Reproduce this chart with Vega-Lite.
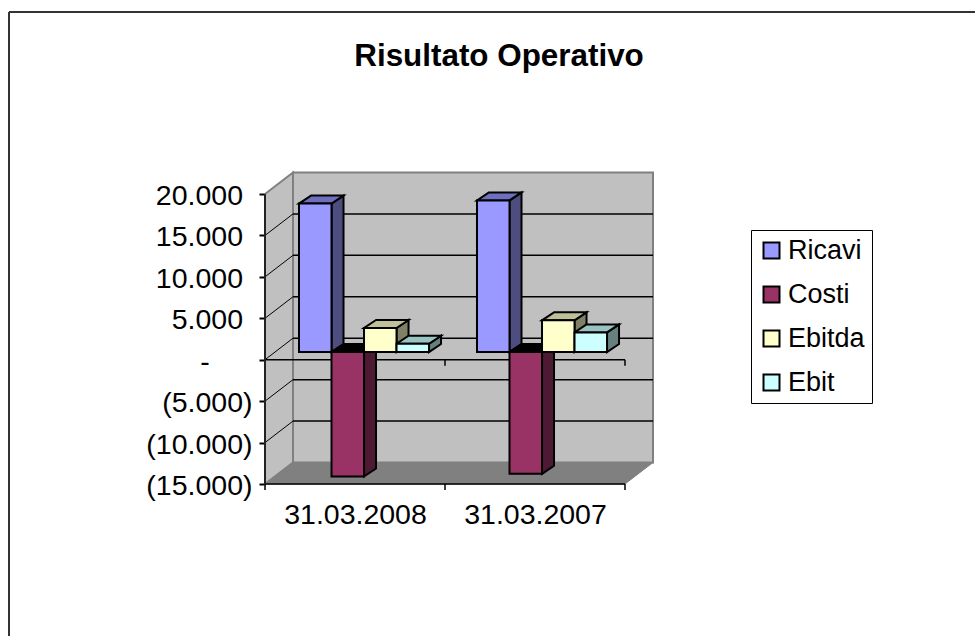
{
"$schema":"https://vega.github.io/schema/vega-lite/v6.json",
"width":388,"height":312,"autosize":"none",
"padding":{"left":265,"top":172,"right":322,"bottom":152},
"background":"white",
"config":{"view":{"stroke":null},"font":"Liberation Sans"},
"title":{"text":"Risultato Operativo","font":"Liberation Sans","fontSize":31.4,"fontWeight":"bold","color":"black","anchor":"middle","frame":"group","dx":40,"offset":-86,"baseline":"alphabetic"},
"datasets":{
"bars":[
{"category":"31.03.2008","series":"Ricavi","value":17910},
{"category":"31.03.2008","series":"Costi","value":-15020},
{"category":"31.03.2008","series":"Ebitda","value":2900},
{"category":"31.03.2008","series":"Ebit","value":1000},
{"category":"31.03.2007","series":"Ricavi","value":18300},
{"category":"31.03.2007","series":"Costi","value":-14700},
{"category":"31.03.2007","series":"Ebitda","value":3820},
{"category":"31.03.2007","series":"Ebit","value":2370}
],
"grid":[{"tick":15000},{"tick":10000},{"tick":5000},{"tick":0},{"tick":-5000},{"tick":-10000}],
"ends":[{"t":0},{"t":1}],
"cats":[{"c":0},{"c":1},{"c":2}]
},
"layer":[
{"data":{"values":[{"k":"wall"}]},"mark":{"type":"rect","fill":"#C0C0C0","stroke":"#808080","strokeWidth":2},
 "encoding":{
 "x":{"datum":0.1556,"type":"quantitative","scale":{"domain":[0,2.1556],"nice":false,"zero":false},
   "axis":{"values":[0.5,1.5],"labelExpr":"datum.value<1?'31.03.2008':'31.03.2007'","title":null,"ticks":false,"domain":false,"grid":false,"labelFont":"Liberation Sans","labelFontSize":28.5,"labelColor":"black","labelPadding":16,"labelOverlap":false,"labelFlush":false}},
 "x2":{"datum":2.1556},
 "y":{"datum":-12405,"type":"quantitative","scale":{"domain":[-15000,22655],"nice":false,"zero":false},
   "axis":{"values":[-15000,-10000,-5000,0,5000,10000,15000,20000],"labelExpr":"datum.value==0?'-\u2003\u2002\u200b':datum.value<0?'('+replace(format(-datum.value,','),',','.')+')':replace(format(datum.value,','),',','.')+'\u2004\u200b'","title":null,"domain":false,"grid":false,"tickColor":"black","tickWidth":2,"tickSize":6,"labelFont":"Liberation Sans","labelFontSize":28.5,"labelColor":"black","labelPadding":7,"labelOffset":1.5,"labelOverlap":false,"labelFlush":false}},
 "y2":{"datum":22595}}},
{"data":{"name":"ends"},"transform":[{"calculate":"datum.t*0.1556","as":"xa"},{"calculate":"-15000+datum.t*2595","as":"ya"},{"calculate":"20000+datum.t*2595","as":"yb"}],
 "mark":{"type":"area","orient":"vertical","fill":"#C0C0C0","stroke":"#808080","strokeWidth":2},
 "encoding":{"x":{"field":"xa","type":"quantitative"},"y":{"field":"yb","type":"quantitative","stack":null},"y2":{"field":"ya"}}},
{"data":{"name":"ends"},"transform":[{"calculate":"datum.t*0.1556","as":"xa"},{"calculate":"2+datum.t*0.1556","as":"xb"},{"calculate":"-15000+datum.t*2595","as":"ya"}],
 "mark":{"type":"area","orient":"horizontal","fill":"#808080","stroke":"#808080","strokeWidth":1},
 "encoding":{"y":{"field":"ya","type":"quantitative"},"x":{"field":"xa","type":"quantitative","stack":null},"x2":{"field":"xb"}}},
{"data":{"name":"grid"},"transform":[{"calculate":"datum.tick+2595","as":"yb"}],
 "mark":{"type":"rule","color":"black","strokeWidth":1.5},
 "encoding":{"x":{"datum":0.1556,"type":"quantitative"},"x2":{"datum":2.1556},"y":{"field":"yb","type":"quantitative"}}},
{"data":{"name":"grid"},"transform":[{"calculate":"datum.tick+2595","as":"yb"}],
 "mark":{"type":"rule","color":"black","strokeWidth":1},
 "encoding":{"x":{"datum":0,"type":"quantitative"},"x2":{"datum":0.1556},"y":{"field":"tick","type":"quantitative"},"y2":{"field":"yb"}}},
{"data":{"name":"cats"},"transform":[{"calculate":"[0,-15000]","as":"lvl"},{"flatten":["lvl"]},{"calculate":"datum.lvl-724","as":"lo"}],
 "mark":{"type":"rule","color":"black","strokeWidth":1.5},
 "encoding":{"x":{"field":"c","type":"quantitative"},"y":{"field":"lvl","type":"quantitative"},"y2":{"field":"lo"}}},
{"data":{"values":[{"lvl":0},{"lvl":-15000}]},
 "mark":{"type":"rule","color":"black","strokeWidth":1.5},
 "encoding":{"x":{"datum":0,"type":"quantitative"},"x2":{"datum":2},"y":{"field":"lvl","type":"quantitative"}}},
{"data":{"values":[{"k":"axis"}]},"mark":{"type":"rule","color":"#222222","strokeWidth":2},
 "encoding":{"x":{"datum":0,"type":"quantitative"},"y":{"datum":-15000,"type":"quantitative"},"y2":{"datum":20000}}},
{"data":{"name":"bars"},
 "transform":[
 {"calculate":"datum.category=='31.03.2008'?0:1","as":"ci"},
 {"calculate":"indexof(['Ricavi','Costi','Ebitda','Ebit'],datum.series)","as":"si"},
 {"calculate":"0.1889+datum.ci*0.9889+datum.si*0.1806","as":"xl"},
 {"calculate":"[0,1]","as":"t"},{"flatten":["t"]},
 {"calculate":"datum.xl+0.1806+datum.t*0.0667","as":"xs"},
 {"calculate":"datum.value+929+datum.t*965","as":"ys"},
 {"calculate":"929+datum.t*965","as":"ys2"}],
 "mark":{"type":"area","orient":"vertical","stroke":"black","strokeWidth":2,"strokeJoin":"miter"},
 "encoding":{"x":{"field":"xs","type":"quantitative"},"y":{"field":"ys","type":"quantitative","stack":null},"y2":{"field":"ys2"},
 "detail":{"field":"category"},
 "color":{"field":"series","type":"nominal","legend":null,"scale":{"domain":["Ricavi","Costi","Ebitda","Ebit"],"range":["#4D4D80","#4D1933","#808066","#668080"]}}}},
{"data":{"name":"bars"},
 "transform":[
 {"calculate":"datum.category=='31.03.2008'?0:1","as":"ci"},
 {"calculate":"indexof(['Ricavi','Costi','Ebitda','Ebit'],datum.series)","as":"si"},
 {"calculate":"0.1889+datum.ci*0.9889+datum.si*0.1806","as":"xl"},
 {"calculate":"[0,1]","as":"t"},{"flatten":["t"]},
 {"calculate":"datum.xl+datum.t*0.0667","as":"xa"},
 {"calculate":"datum.xl+0.1806+datum.t*0.0667","as":"xb"},
 {"calculate":"max(datum.value,0)+929+datum.t*965","as":"yt"}],
 "mark":{"type":"area","orient":"horizontal","stroke":"black","strokeWidth":2,"strokeJoin":"miter"},
 "encoding":{"y":{"field":"yt","type":"quantitative"},"x":{"field":"xa","type":"quantitative","stack":null},"x2":{"field":"xb"},
 "detail":{"field":"category"},
 "color":{"field":"series","type":"nominal","legend":null,"scale":{"domain":["Ricavi","Costi","Ebitda","Ebit"],"range":["#6F6FBF","#000000","#BFBF99","#99C2C2"]}}}},
{"data":{"name":"bars"},
 "transform":[
 {"calculate":"datum.category=='31.03.2008'?0:1","as":"ci"},
 {"calculate":"indexof(['Ricavi','Costi','Ebitda','Ebit'],datum.series)","as":"si"},
 {"calculate":"0.1889+datum.ci*0.9889+datum.si*0.1806","as":"xl"},
 {"calculate":"datum.xl+0.1806","as":"xr"},
 {"calculate":"datum.value+929","as":"yv"},
 {"calculate":"929","as":"yz"}],
 "mark":{"type":"rect","stroke":"black","strokeWidth":2},
 "encoding":{"x":{"field":"xl","type":"quantitative"},"x2":{"field":"xr"},"y":{"field":"yv","type":"quantitative"},"y2":{"field":"yz"},
 "color":{"field":"series","type":"nominal","scale":{"domain":["Ricavi","Costi","Ebitda","Ebit"],"range":["#9999FF","#993366","#FFFFCC","#CCFFFF"]},
 "legend":{"orient":"none","legendX":486,"legendY":58,"title":null,"symbolType":"square","symbolSize":256,"symbolStrokeColor":"black","symbolStrokeWidth":2,"symbolOpacity":1,"labelFont":"Liberation Sans","labelFontSize":27,"labelColor":"black","labelOffset":3,"rowPadding":16,"padding":7,"strokeColor":"black","fillColor":"white","values":["Ricavi","Costi","Ebitda","Ebit"]}}}},
{"data":{"values":[{"k":"frame"}]},"mark":{"type":"rule","color":"#333333","strokeWidth":2},
 "encoding":{"x":{"datum":-1.4222,"type":"quantitative"},"x2":{"datum":3.9444},"y":{"datum":41966,"type":"quantitative"}}},
{"data":{"values":[{"k":"frame"}]},"mark":{"type":"rule","color":"#333333","strokeWidth":2},
 "encoding":{"x":{"datum":-1.4222,"type":"quantitative"},"y":{"datum":41966,"type":"quantitative"},"y2":{"datum":-33345}}}
],
"resolve":{"scale":{"color":"independent"}}
}
